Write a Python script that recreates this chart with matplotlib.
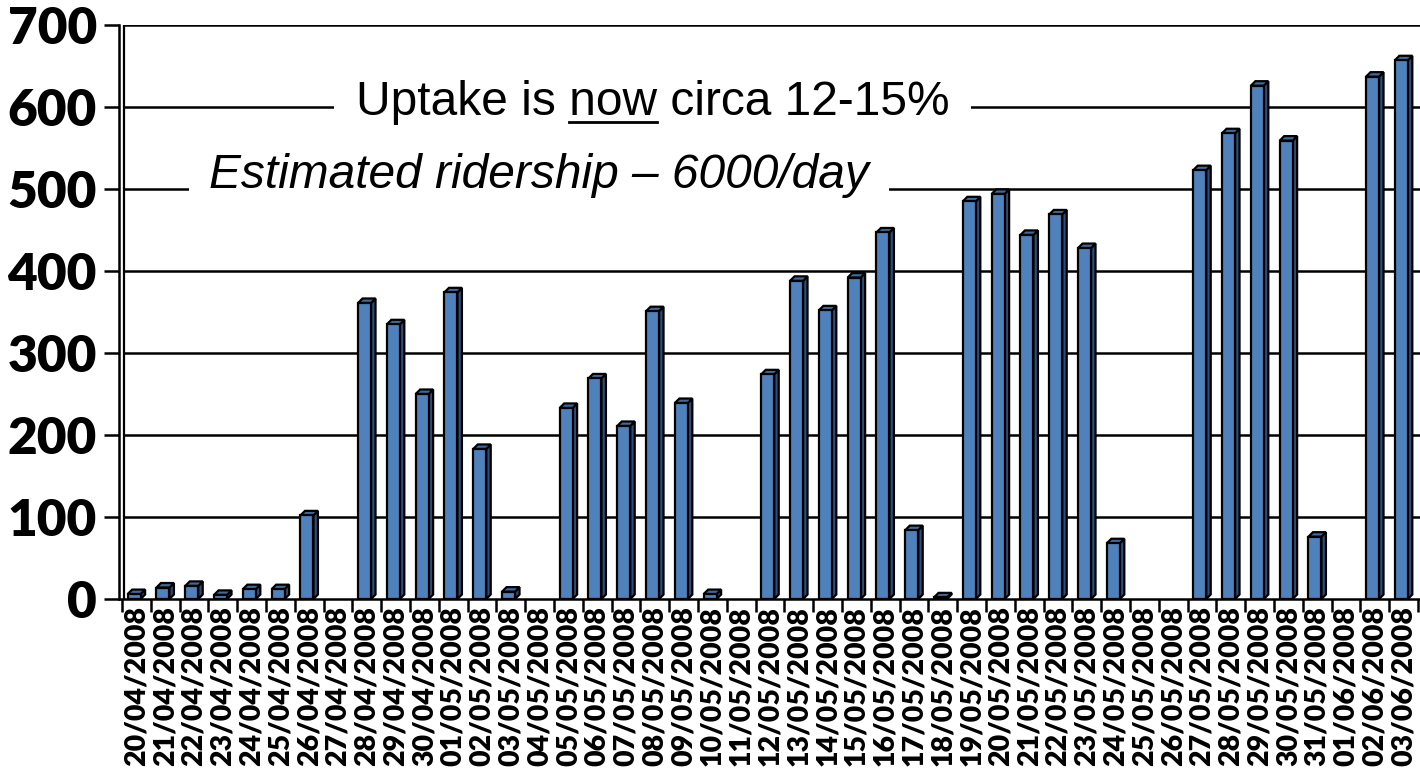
import matplotlib
matplotlib.use("Agg")
import matplotlib.pyplot as plt
from matplotlib.patches import Polygon
from matplotlib.lines import Line2D
from matplotlib.transforms import IdentityTransform

dates = ["20/04/2008", "21/04/2008", "22/04/2008", "23/04/2008", "24/04/2008",
         "25/04/2008", "26/04/2008", "27/04/2008", "28/04/2008", "29/04/2008",
         "30/04/2008", "01/05/2008", "02/05/2008", "03/05/2008", "04/05/2008",
         "05/05/2008", "06/05/2008", "07/05/2008", "08/05/2008", "09/05/2008",
         "10/05/2008", "11/05/2008", "12/05/2008", "13/05/2008", "14/05/2008",
         "15/05/2008", "16/05/2008", "17/05/2008", "18/05/2008", "19/05/2008",
         "20/05/2008", "21/05/2008", "22/05/2008", "23/05/2008", "24/05/2008",
         "25/05/2008", "26/05/2008", "27/05/2008", "28/05/2008", "29/05/2008",
         "30/05/2008", "31/05/2008", "01/06/2008", "02/06/2008", "03/06/2008"]
riders = [6, 14, 16, 5, 12, 12, 102, 0, 361, 335,
          250, 374, 183, 9, 0, 233, 269, 211, 351, 239,
          6, 0, 274, 388, 352, 392, 447, 84, 2, 485,
          494, 444, 469, 428, 68, 0, 0, 523, 568, 626,
          559, 76, 0, 637, 657]
y_ticks = [0, 100, 200, 300, 400, 500, 600, 700]
note1 = ("Uptake is ", "now", " circa 12-15%")
note2 = "Estimated ridership \u2013 6000/day"

W, H = 1420, 773
fig = plt.figure(figsize=(W / 100, H / 100), dpi=100)
ax = fig.add_axes([119 / W, 1 - 599 / H, (W - 119) / W, (599 - 25) / H])

n = len(dates)
px_per_cat = 28.8
ax.set_xlim(-0.5 - 3 / px_per_cat, n - 0.5 + 2 / px_per_cat)
ax.set_ylim(0, 700)
px_per_unit = 574 / 700

# gridlines
for t in y_ticks[1:]:
    ax.plot([-0.5 + 2 / px_per_cat, n], [t, t], color="black", lw=1.8, zorder=1,
            solid_capstyle="butt")
ax.axvline(-0.5 + 2 / px_per_cat, color="black", lw=1.6, zorder=1)

# 3D-ish bars
w = 0.45
dx = 4.5 / px_per_cat
dy = 4.5 / px_per_unit
front_c = "#4F81BD"
side_c = "#2C4D75"
top_c = "#3E6AA0"
elw = 1.6
for i, v in enumerate(riders):
    if v <= 0:
        continue
    x0 = i - w / 2 - dx / 2
    x1 = x0 + w
    side = Polygon([(x1, 0), (x1 + dx, dy), (x1 + dx, v + dy), (x1, v)],
                   closed=True, facecolor=side_c, edgecolor="black", lw=elw, zorder=3)
    top = Polygon([(x0, v), (x0 + dx, v + dy), (x1 + dx, v + dy), (x1, v)],
                  closed=True, facecolor=top_c, edgecolor="black", lw=elw, zorder=3)
    ax.add_patch(side)
    ax.add_patch(top)
edge_cols = ["black" if v > 0 else "none" for v in riders]
ax.bar([i - dx / 2 for i in range(n)], riders, width=w, color=front_c,
       edgecolor=edge_cols, linewidth=elw, zorder=4)

# spines
for s in ["top", "right"]:
    ax.spines[s].set_visible(False)
ax.spines["left"].set_linewidth(1.8)
ax.spines["bottom"].set_linewidth(1.8)
ax.spines["bottom"].set_zorder(5)

tick_font = dict(fontfamily=["Lato", "DejaVu Sans"], fontweight="heavy")

# y ticks
ax.set_yticks(y_ticks)
ax.set_yticklabels([str(t) for t in y_ticks], fontsize=37, **tick_font)
ax.tick_params(axis="y", direction="out", length=11, width=1.8, pad=5)

# x ticks: marks at category boundaries, labels at centers
ax.set_xticks([i + 0.5 for i in range(-1, n)])
ax.set_xticklabels([])
ax.tick_params(axis="x", which="major", direction="out", length=9, width=1.8)
ax.set_xticks(list(range(n)), minor=True)
ax.set_xticklabels(dates, minor=True, rotation=90, fontsize=20.5, **tick_font)
ax.tick_params(axis="x", which="minor", length=0, pad=5)

# annotations
fs = 34.5
t1 = ax.text(17.92, 590, "".join(note1), ha="center", va="baseline",
             fontfamily="Liberation Sans", fontsize=fs, zorder=6,
             bbox=dict(boxstyle="square,pad=0.45", facecolor="white",
                       edgecolor="none"))
t2 = ax.text(13.98, 501, note2, ha="center", va="baseline",
             fontfamily="Liberation Sans", fontstyle="italic", fontsize=fs,
             zorder=6,
             bbox=dict(boxstyle="square,pad=0.42", facecolor="white",
                       edgecolor="none"))

fig.canvas.draw()
r = fig.canvas.get_renderer()


def text_w(s):
    tmp = ax.text(0, 0, s, fontfamily="Liberation Sans", fontsize=fs)
    e = tmp.get_window_extent(r).width
    tmp.remove()
    return e


bb = t1.get_window_extent(r)
x_end = bb.x0 + text_w(note1[0] + note1[1])
x_start = x_end - text_w(note1[1])
base_y = ax.transData.transform((0, 590))[1]
uy = base_y - 6.5
fig.add_artist(Line2D([x_start, x_end], [uy, uy], color="black", lw=2.0,
                      transform=IdentityTransform(), zorder=7))

fig.savefig("out.png", dpi=100)
